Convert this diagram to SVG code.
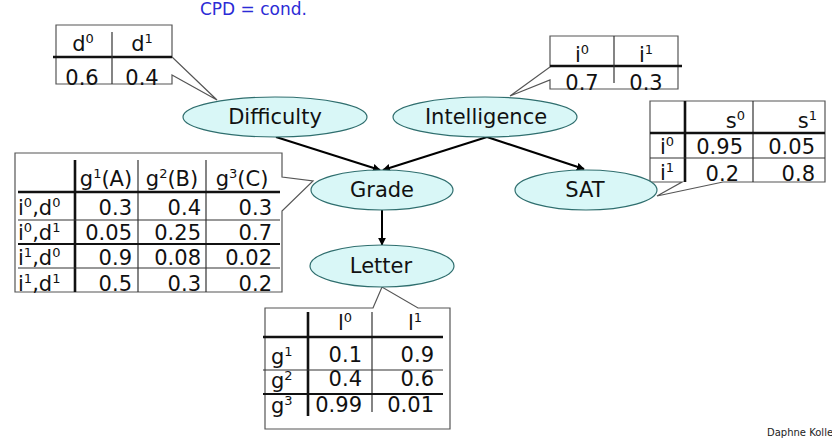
<svg xmlns="http://www.w3.org/2000/svg" width="832" height="438" viewBox="0 0 832 438">
<defs>
<marker id="arr" viewBox="0 0 10 10" refX="9" refY="5" markerWidth="4" markerHeight="4" orient="auto" markerUnits="strokeWidth">
<path d="M0,0 L10,5 L0,10 Z" fill="#000"/>
</marker>
<style>
text{font-family:"DejaVu Sans","Liberation Sans",sans-serif;fill:#111}
.node ellipse{fill:#d9f7f7;stroke:#2f6e6e;stroke-width:1.2}
.lbl{font-size:21px;text-anchor:middle}
.box{fill:#fff;stroke:#555;stroke-width:1.2}
.thick{stroke:#111;stroke-width:2.6;fill:none}
.thin{stroke:#333;stroke-width:1.2;fill:none}
.t{font-size:21px}
.c{text-anchor:middle}
.r{text-anchor:end}
.sup{font-size:13px}
.edge{stroke:#000;stroke-width:2;fill:none;marker-end:url(#arr)}
</style>
</defs>
<rect width="832" height="438" fill="#fff"/>
<text x="200" y="15" style="font-size:17px;fill:#2b2bd6">CPD = cond.</text>

<g id="connectors">
<line class="edge" x1="276" y1="137" x2="380" y2="170"/>
<line class="edge" x1="487" y1="137" x2="383" y2="170"/>
<line class="edge" x1="487" y1="137" x2="584" y2="169"/>
<line class="edge" x1="382" y1="210" x2="382" y2="245"/>
</g>

<g id="cpd-difficulty">
<path class="box" d="M56,25 H172 V57 L217,100 L172,75 V84 H56 Z"/>
<line class="thick" x1="53" y1="57" x2="172" y2="57"/>
<line class="thin" x1="112" y1="32" x2="112" y2="84"/>
<text class="t c" x="83" y="51">d<tspan dy="-8" class="sup">0</tspan></text>
<text class="t c" x="142" y="51">d<tspan dy="-8" class="sup">1</tspan></text>
<text class="t c" x="82" y="85">0.6</text>
<text class="t c" x="142" y="85">0.4</text>
</g>

<g id="cpd-intelligence">
<path class="box" d="M550,36 H678 V89 H550 V80 L510,96 L550,67 Z"/>
<line class="thick" x1="550" y1="66" x2="682" y2="66"/>
<line class="thin" x1="614" y1="36" x2="614" y2="83"/>
<text class="t c" x="582" y="62">i<tspan dy="-8" class="sup">0</tspan></text>
<text class="t c" x="646" y="62">i<tspan dy="-8" class="sup">1</tspan></text>
<text class="t c" x="582" y="90">0.7</text>
<text class="t c" x="646" y="90">0.3</text>
</g>

<g id="cpd-sat">
<path class="box" d="M650,101 H825 V182 H723 L657,196 L682,182 H650 Z"/>
<line class="thick" x1="685" y1="101" x2="685" y2="182"/>
<line class="thin" x1="753" y1="101" x2="753" y2="182"/>
<line class="thick" x1="650" y1="133" x2="825" y2="133"/>
<line class="thin" x1="650" y1="158" x2="825" y2="158"/>
<text class="t r" x="745" y="128">s<tspan dy="-8" class="sup">0</tspan></text>
<text class="t r" x="817" y="128">s<tspan dy="-8" class="sup">1</tspan></text>
<text class="t" x="660" y="154">i<tspan dy="-8" class="sup">0</tspan></text>
<text class="t" x="660" y="180">i<tspan dy="-8" class="sup">1</tspan></text>
<text class="t r" x="743" y="154">0.95</text>
<text class="t r" x="815" y="154">0.05</text>
<text class="t r" x="739" y="181">0.2</text>
<text class="t r" x="815" y="181">0.8</text>
</g>

<g id="cpd-grade">
<path class="box" d="M15,153 H282 V177 L313,181 L282,211 V292 H15 Z"/>
<line class="thick" x1="75" y1="160" x2="75" y2="292"/>
<line class="thin" x1="138" y1="160" x2="138" y2="292"/>
<line class="thin" x1="206" y1="160" x2="206" y2="292"/>
<line class="thick" x1="18" y1="192" x2="280" y2="192"/>
<line class="thin" x1="18" y1="220" x2="280" y2="220"/>
<line class="thick" x1="18" y1="244" x2="280" y2="244" style="stroke-width:1.8"/>
<line class="thin" x1="18" y1="268" x2="280" y2="268"/>
<text class="t c" x="106" y="186">g<tspan dy="-8" class="sup">1</tspan><tspan dy="8">(A)</tspan></text>
<text class="t c" x="172" y="186">g<tspan dy="-8" class="sup">2</tspan><tspan dy="8">(B)</tspan></text>
<text class="t c" x="242" y="186">g<tspan dy="-8" class="sup">3</tspan><tspan dy="8">(C)</tspan></text>
<text class="t" x="18" y="215">i<tspan dy="-8" class="sup">0</tspan><tspan dy="8">,d</tspan><tspan dy="-8" class="sup">0</tspan></text>
<text class="t" x="18" y="240">i<tspan dy="-8" class="sup">0</tspan><tspan dy="8">,d</tspan><tspan dy="-8" class="sup">1</tspan></text>
<text class="t" x="18" y="265">i<tspan dy="-8" class="sup">1</tspan><tspan dy="8">,d</tspan><tspan dy="-8" class="sup">0</tspan></text>
<text class="t" x="18" y="291">i<tspan dy="-8" class="sup">1</tspan><tspan dy="8">,d</tspan><tspan dy="-8" class="sup">1</tspan></text>
<text class="t r" x="132" y="215">0.3</text>
<text class="t r" x="201" y="215">0.4</text>
<text class="t r" x="272" y="215">0.3</text>
<text class="t r" x="132" y="240">0.05</text>
<text class="t r" x="201" y="240">0.25</text>
<text class="t r" x="272" y="240">0.7</text>
<text class="t r" x="132" y="265">0.9</text>
<text class="t r" x="201" y="265">0.08</text>
<text class="t r" x="272" y="265">0.02</text>
<text class="t r" x="132" y="291">0.5</text>
<text class="t r" x="201" y="291">0.3</text>
<text class="t r" x="272" y="291">0.2</text>
</g>

<g id="cpd-letter">
<path class="box" d="M265,308 H373 L382,287 L418,308 H450 V429 H265 Z"/>
<line class="thick" x1="308" y1="312" x2="308" y2="416"/>
<line class="thin" x1="372" y1="312" x2="372" y2="412"/>
<line class="thick" x1="263" y1="337" x2="443" y2="337"/>
<line class="thin" x1="263" y1="370" x2="443" y2="370"/>
<line class="thick" x1="263" y1="394" x2="443" y2="394" style="stroke-width:1.8"/>
<text class="t c" x="345" y="330">l<tspan dy="-8" class="sup">0</tspan></text>
<text class="t c" x="415" y="330">l<tspan dy="-8" class="sup">1</tspan></text>
<text class="t" x="271" y="364">g<tspan dy="-8" class="sup">1</tspan></text>
<text class="t" x="271" y="388">g<tspan dy="-8" class="sup">2</tspan></text>
<text class="t" x="271" y="413">g<tspan dy="-8" class="sup">3</tspan></text>
<text class="t r" x="362" y="362">0.1</text>
<text class="t r" x="434" y="362">0.9</text>
<text class="t r" x="362" y="386">0.4</text>
<text class="t r" x="434" y="386">0.6</text>
<text class="t r" x="362" y="412">0.99</text>
<text class="t r" x="434" y="412">0.01</text>
</g>

<g id="node-difficulty" class="node">
<ellipse cx="275" cy="117" rx="92" ry="20"/>
<text class="lbl" x="275" y="124">Difficulty</text>
</g>
<g id="node-intelligence" class="node">
<ellipse cx="485" cy="117" rx="92" ry="20"/>
<text class="lbl" x="486" y="124">Intelligence</text>
</g>
<g id="node-grade" class="node">
<ellipse cx="382" cy="190" rx="71" ry="20"/>
<text class="lbl" x="382" y="197">Grade</text>
</g>
<g id="node-sat" class="node">
<ellipse cx="586" cy="190" rx="71" ry="20"/>
<text class="lbl" x="585" y="197">SAT</text>
</g>
<g id="node-letter" class="node">
<ellipse cx="382" cy="266" rx="72" ry="21"/>
<text class="lbl" x="381" y="273">Letter</text>
</g>

<text x="767" y="436" style="font-size:10px;fill:#222">Daphne Kolle</text>
</svg>
